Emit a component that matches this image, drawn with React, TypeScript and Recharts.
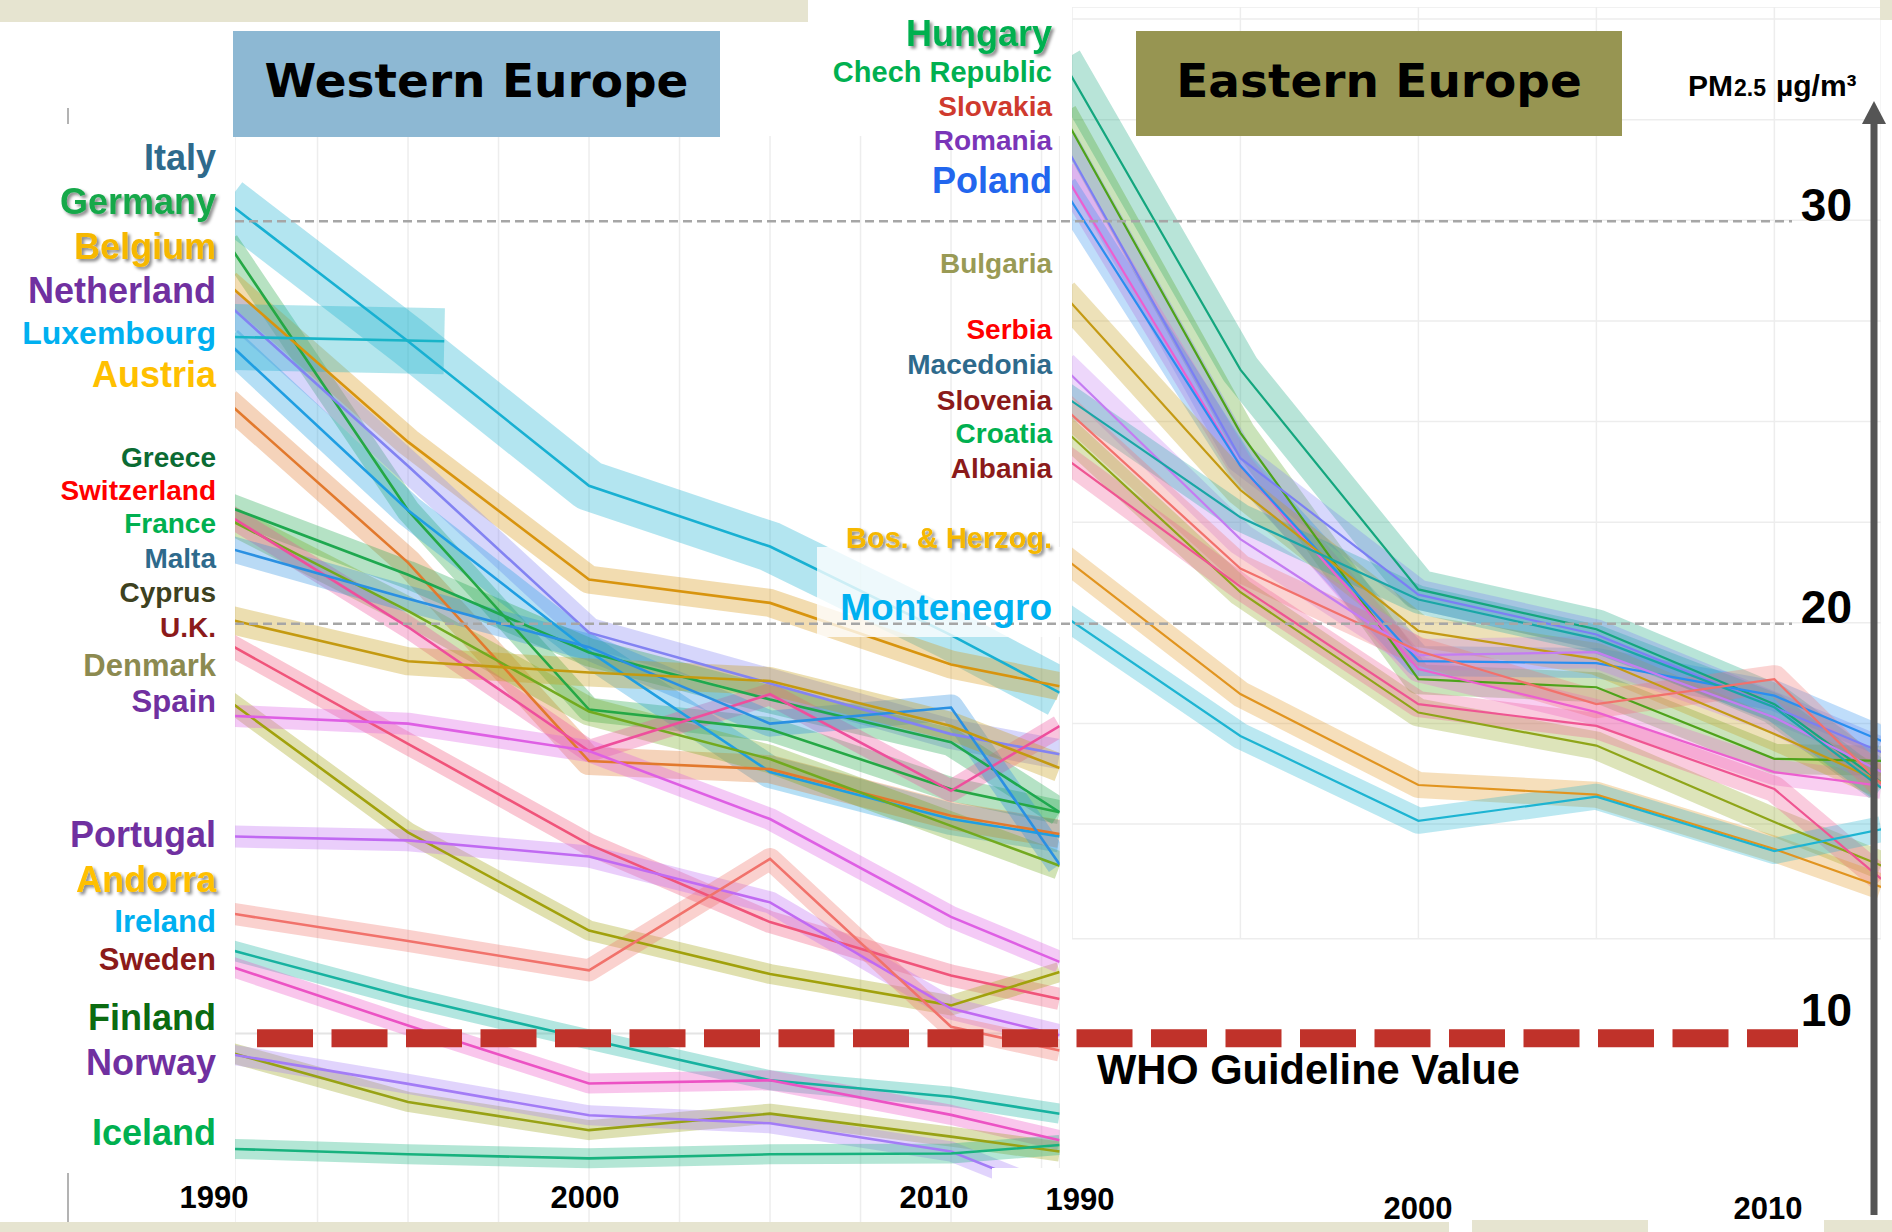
import React from "react";
import { LineChart, Line, XAxis, YAxis, CartesianGrid, ReferenceLine } from "recharts";

// ---------------- DATA (PM2.5, µg/m³) ----------------
const westYears = [1990, 1995, 2000, 2005, 2010, 2013];
const westYearsLux = [1990, 1996];
const westYearsTo2012 = [1990, 1995, 2000, 2005, 2010, 2012];
const eastYears = [1990, 1995, 2000, 2005, 2010, 2013];

const wItaly = [30.46, 27.0, 23.41, 21.9, 19.7, 18.27];
const wGermany = [29.47, 22.8, 17.85, 17.36, 15.87, 15.3];
const wBelgium = [28.44, 24.5, 21.08, 20.5, 18.97, 18.43];
const wNetherland = [27.94, 23.9, 19.76, 18.5, 17.24, 16.74];
const wLuxembourg = [27.11, 27.0];
const wAustria = [26.99, 22.8, 19.3, 16.3, 15.13, 14.7];
const wGreece = [25.5, 21.5, 16.57, 16.37, 15.21, 14.76];
const wSwitzerland = [22.9, 21.2, 19.27, 18.1, 17.04, 15.3];
const wFrance = [22.6, 20.3, 17.8, 16.62, 14.96, 13.97];
const wUnlabelled = [22.7, 19.9, 16.82, 18.23, 15.83, 17.44];
const wMalta = [21.87, 20.6, 19.4, 17.5, 17.9, 14.0];
const wCyprus = [20.1, 19.05, 18.77, 18.56, 17.44, 16.4];
const wUK = [19.5, 17.0, 14.5, 12.57, 11.24, 10.66];
const wDenmark = [18.1, 14.8, 12.36, 11.28, 10.5, 11.33];
const wSpain = [17.7, 17.5, 16.82, 15.13, 12.7, 11.58];
const wPortugal = [14.7, 14.6, 14.2, 13.06, 10.42, 9.76];
const wAndorra = [12.8, 12.1, 11.37, 14.14, 9.97, 9.38];
const wIreland = [11.9, 10.7, 9.65, 8.64, 8.23, 7.81];
const wSweden = [11.5, 10.0, 8.56, 8.64, 7.78, 7.15];
const wFinland = [9.35, 8.1, 7.4, 7.81, 7.24, 6.87];
const wNorway = [9.3, 8.55, 7.77, 7.57, 6.87, 6.15];
const wIceland = [6.94, 6.8, 6.7, 6.8, 6.82, 7.03];

const eHungary = [33.97, 26.29, 20.83, 19.84, 17.98, 16.04];
const eChech = [32.66, 24.72, 18.6, 18.4, 16.62, 16.57];
const eSlovakia = [31.99, 24.09, 20.7, 19.71, 17.9, 16.79];
const eRomania = [31.24, 23.9, 18.85, 17.78, 16.29, 15.95];
const ePoland = [30.83, 23.9, 19.05, 19.0, 18.19, 17.07];
const eBulgaria = [28.19, 23.3, 19.8, 19.1, 17.24, 16.04];
const eSerbia = [26.37, 22.08, 19.2, 19.27, 17.65, 16.3];
const eMacedonia = [25.67, 22.62, 20.58, 19.6, 17.9, 15.9];
const eSlovenia = [25.38, 21.35, 19.3, 17.98, 18.6, 16.0];
const eCroatia = [24.84, 20.76, 17.77, 16.95, 15.05, 13.97];
const eAlbania = [24.14, 20.9, 17.98, 17.44, 15.87, 13.64];
const eBosnia = [21.65, 18.23, 15.97, 15.73, 14.38, 13.44];
const eMontenegro = [20.2, 17.19, 15.08, 15.68, 14.33, 14.87];

const yTickValues = [10, 20, 30];
const dashedRefValues = [30, 20];
const WHO_LINE_VALUE = 9.7;
const westGridYears = [1992.5, 1995, 1997.5, 2000, 2002.5, 2005, 2007.5, 2010, 2012.5];
const eastGridYears = [1995, 2000, 2005, 2010];
const eastGridValues = [15, 17.5, 20, 22.5, 25, 27.5, 30, 32.5, 35];
const eastAxisYears = [2000, 2010];

type Series = { id: string; years: number[]; values: number[] };
type Style = { color: string; band: number };

const westSeries: Series[] = [
  { id: "Italy", years: westYears, values: wItaly },
  { id: "Germany", years: westYears, values: wGermany },
  { id: "Belgium", years: westYears, values: wBelgium },
  { id: "Netherland", years: westYears, values: wNetherland },
  { id: "Luxembourg", years: westYearsLux, values: wLuxembourg },
  { id: "Austria", years: westYears, values: wAustria },
  { id: "Greece", years: westYears, values: wGreece },
  { id: "Switzerland", years: westYears, values: wSwitzerland },
  { id: "France", years: westYears, values: wFrance },
  { id: "Unlabelled", years: westYears, values: wUnlabelled },
  { id: "Malta", years: westYears, values: wMalta },
  { id: "Cyprus", years: westYears, values: wCyprus },
  { id: "UK", years: westYears, values: wUK },
  { id: "Denmark", years: westYears, values: wDenmark },
  { id: "Spain", years: westYears, values: wSpain },
  { id: "Portugal", years: westYears, values: wPortugal },
  { id: "Andorra", years: westYears, values: wAndorra },
  { id: "Ireland", years: westYears, values: wIreland },
  { id: "Sweden", years: westYears, values: wSweden },
  { id: "Finland", years: westYears, values: wFinland },
  { id: "Norway", years: westYearsTo2012, values: wNorway },
  { id: "Iceland", years: westYears, values: wIceland },
];

const eastSeries: Series[] = [
  { id: "Hungary", years: eastYears, values: eHungary },
  { id: "Chech", years: eastYears, values: eChech },
  { id: "Slovakia", years: eastYears, values: eSlovakia },
  { id: "Romania", years: eastYears, values: eRomania },
  { id: "Poland", years: eastYears, values: ePoland },
  { id: "Bulgaria", years: eastYears, values: eBulgaria },
  { id: "Serbia", years: eastYears, values: eSerbia },
  { id: "Macedonia", years: eastYears, values: eMacedonia },
  { id: "Slovenia", years: eastYears, values: eSlovenia },
  { id: "Croatia", years: eastYears, values: eCroatia },
  { id: "Albania", years: eastYears, values: eAlbania },
  { id: "Bosnia", years: eastYears, values: eBosnia },
  { id: "Montenegro", years: eastYears, values: eMontenegro },
];

// ---------------- STYLES ----------------
const westStyles: Record<string, Style> = {
  Italy: { color: "#18b0d2", band: 50 },
  Germany: { color: "#25a845", band: 24 },
  Belgium: { color: "#d8940e", band: 28 },
  Netherland: { color: "#8383f2", band: 30 },
  Luxembourg: { color: "#19b4c8", band: 66 },
  Austria: { color: "#1f9ee2", band: 32 },
  Greece: { color: "#e2792d", band: 28 },
  Switzerland: { color: "#1ea84f", band: 28 },
  France: { color: "#72aa1f", band: 28 },
  Unlabelled: { color: "#ee4f9c", band: 22 },
  Malta: { color: "#2a90e2", band: 26 },
  Cyprus: { color: "#c49a10", band: 28 },
  UK: { color: "#f0547a", band: 22 },
  Denmark: { color: "#a1a10c", band: 20 },
  Spain: { color: "#de5fe4", band: 22 },
  Portugal: { color: "#c06af2", band: 22 },
  Andorra: { color: "#f1726b", band: 22 },
  Ireland: { color: "#17b2a0", band: 20 },
  Sweden: { color: "#ec52c4", band: 20 },
  Finland: { color: "#98a215", band: 20 },
  Norway: { color: "#a37cf6", band: 20 },
  Iceland: { color: "#18b27e", band: 20 },
};

const eastStyles: Record<string, Style> = {
  Hungary: { color: "#14a67e", band: 40 },
  Chech: { color: "#4ea31a", band: 30 },
  Slovakia: { color: "#7b7ff4", band: 30 },
  Romania: { color: "#ec5fd0", band: 26 },
  Poland: { color: "#2a8ef0", band: 30 },
  Bulgaria: { color: "#c49a14", band: 32 },
  Serbia: { color: "#c47cf2", band: 32 },
  Macedonia: { color: "#1aa6a6", band: 28 },
  Slovenia: { color: "#f2716c", band: 28 },
  Croatia: { color: "#8fa519", band: 28 },
  Albania: { color: "#ef5592", band: 26 },
  Bosnia: { color: "#e1941f", band: 26 },
  Montenegro: { color: "#1db4d2", band: 26 },
};

// ---------------- LAYOUT ----------------
const FONT = "'Liberation Sans', Arial, Helvetica, sans-serif";
const HEAD_FONT = "'DejaVu Sans', Verdana, sans-serif";
const Y20 = 623.3;
const PX_PER_UNIT = 40.25;
const yOf = (v: number) => Y20 - (v - 20) * PX_PER_UNIT;
const vOf = (y: number) => 20 + (Y20 - y) / PX_PER_UNIT;
const ZERO = { top: 0, right: 0, bottom: 0, left: 0 };

const toPoints = (s: Series) => s.years.map((year, i) => ({ year, v: s.values[i] }));
const flatPoints = (v: number) => [{ x: 0, v }, { x: 1, v }];

type PanelProps = {
  left: number;
  pxPerYear: number;
  xDomain: [number, number];
  yDomain: [number, number];
  series: Series[];
  styles: Record<string, Style>;
  gridX: number[];
  gridY?: number[];
  lineWidth: number;
  bandOpacity: number;
  axisYears?: number[];
  refY?: number;
};

function Panel(p: PanelProps) {
  const width = (p.xDomain[1] - p.xDomain[0]) * p.pxPerYear;
  const top = yOf(p.yDomain[1]);
  const plotH = yOf(p.yDomain[0]) - top;
  const mb = p.axisYears ? 9 : 0;
  return (
    <div style={{ position: "absolute", left: p.left, top, width, height: plotH + mb }}>
      <LineChart width={width} height={plotH + mb} margin={{ top: 0, right: 0, left: 0, bottom: mb }}>
        <CartesianGrid stroke="#ededed" strokeWidth={1.5} horizontal={!!p.gridY} vertical={true} />
        <XAxis xAxisId={0} type="number" dataKey="year" domain={p.xDomain} allowDataOverflow hide ticks={p.gridX} />
        {p.axisYears && (
          <XAxis
            xAxisId="axis"
            type="number"
            dataKey="year"
            domain={p.xDomain}
            allowDataOverflow
            height={0}
            ticks={p.axisYears}
            tick={false}
            tickSize={7}
            tickLine={{ stroke: "#9a9a9a", strokeWidth: 2 }}
            axisLine={{ stroke: "#b3b3b3", strokeWidth: 2.5 }}
          />
        )}
        <YAxis type="number" domain={p.yDomain} allowDataOverflow hide ticks={p.gridY} />
        {p.refY !== undefined && <ReferenceLine y={p.refY} stroke="#e4e4e4" strokeWidth={2} />}
        {p.series.map((s) => (
          <Line
            key={"band-" + s.id}
            data={toPoints(s)}
            dataKey="v"
            type="linear"
            stroke={p.styles[s.id].color}
            strokeOpacity={p.bandOpacity}
            strokeWidth={p.styles[s.id].band}
            strokeLinejoin="round"
            dot={false}
            activeDot={false}
            legendType="none"
            isAnimationActive={false}
          />
        ))}
        {p.series.map((s) => (
          <Line
            key={"line-" + s.id}
            data={toPoints(s)}
            dataKey="v"
            type="linear"
            stroke={p.styles[s.id].color}
            strokeWidth={p.lineWidth}
            dot={false}
            activeDot={false}
            legendType="none"
            isAnimationActive={false}
          />
        ))}
      </LineChart>
    </div>
  );
}

function GuideLines() {
  const top = yOf(35);
  const h = yOf(5) - top;
  return (
    <>
      <div style={{ position: "absolute", left: 235, top, width: 1557, height: h }}>
        <LineChart width={1557} height={h} margin={ZERO}>
          <XAxis type="number" dataKey="x" domain={[0, 1]} hide />
          <YAxis type="number" domain={[5, 35]} hide />
          {dashedRefValues.map((v) => (
            <Line
              key={"ref" + v}
              data={flatPoints(v)}
              dataKey="v"
              type="linear"
              stroke="#a6a6a6"
              strokeWidth={2.5}
              strokeDasharray="9 5"
              dot={false}
              activeDot={false}
              legendType="none"
              isAnimationActive={false}
            />
          ))}
        </LineChart>
      </div>
      <div style={{ position: "absolute", left: 257, top, width: 1541, height: h }}>
        <LineChart width={1541} height={h} margin={ZERO}>
          <XAxis type="number" dataKey="x" domain={[0, 1]} hide />
          <YAxis type="number" domain={[5, 35]} hide />
          <Line
            data={flatPoints(WHO_LINE_VALUE)}
            dataKey="v"
            type="linear"
            stroke="#c0322a"
            strokeWidth={18}
            strokeDasharray="56 18.5"
            dot={false}
            activeDot={false}
            legendType="none"
            isAnimationActive={false}
          />
        </LineChart>
      </div>
    </>
  );
}

const AxisTick = (props: any) => (
  <text x={props.x} y={props.y} textAnchor="end" fontFamily={FONT} fontWeight={700} fontSize={46} fill="#000">
    {props.payload.value}
  </text>
);

function RightAxis() {
  const top = 122;
  const bottom = 1215;
  const h = bottom - top;
  return (
    <div style={{ position: "absolute", left: 1774, top, width: 112, height: h }}>
      <LineChart width={112} height={h} margin={ZERO} data={[{ x: 0 }, { x: 1 }]}>
        <XAxis type="number" dataKey="x" domain={[0, 1]} hide />
        <YAxis
          type="number"
          orientation="left"
          width={100}
          domain={[vOf(bottom), vOf(top)]}
          allowDataOverflow
          ticks={yTickValues}
          interval={0}
          tickSize={0}
          tickMargin={22}
          tickLine={false}
          axisLine={{ stroke: "#555555", strokeWidth: 7 }}
          tick={AxisTick}
        />
      </LineChart>
    </div>
  );
}

type Label = [string, string, number, number, boolean];
const westLabels: Label[] = [
  ["Italy", "#2e6a8c", 170, 36, false],
  ["Germany", "#13a84a", 214, 36, true],
  ["Belgium", "#f6b800", 259, 36, true],
  ["Netherland", "#7030a0", 303, 36, false],
  ["Luxembourg", "#00b0f0", 344, 32, false],
  ["Austria", "#ffc000", 387, 36, false],
  ["Greece", "#0b6b33", 467, 28, false],
  ["Switzerland", "#ff0000", 500, 28, false],
  ["France", "#00b050", 533, 28, false],
  ["Malta", "#2e6a8c", 568, 28, false],
  ["Cyprus", "#3d4120", 602, 28, false],
  ["U.K.", "#8b1a1a", 637, 28, false],
  ["Denmark", "#8c8a50", 676, 31, false],
  ["Spain", "#7030a0", 712, 31, false],
  ["Portugal", "#7030a0", 847, 36, false],
  ["Andorra", "#ffc000", 892, 36, true],
  ["Ireland", "#00b0f0", 932, 31, false],
  ["Sweden", "#8b1a1a", 970, 31, false],
  ["Finland", "#0b6b11", 1030, 36, false],
  ["Norway", "#7030a0", 1075, 36, false],
  ["Iceland", "#00b050", 1145, 36, false],
];
const eastLabels: Label[] = [
  ["Hungary", "#00b050", 46, 36, true],
  ["Chech Republic", "#00b050", 82, 29, false],
  ["Slovakia", "#cf3a2e", 116, 28, false],
  ["Romania", "#7a35b8", 150, 28, false],
  ["Poland", "#2266ee", 193, 36, false],
  ["Bulgaria", "#999a55", 273, 28, false],
  ["Serbia", "#ff0000", 339, 28, false],
  ["Macedonia", "#2e6a8c", 374, 28, false],
  ["Slovenia", "#8b1a1a", 410, 28, false],
  ["Croatia", "#00b050", 443, 28, false],
  ["Albania", "#8b1a1a", 478, 28, false],
  ["Bos. & Herzog.", "#f6b800", 548, 29, true],
  ["Montenegro", "#00b0f0", 620, 37, false],
];
const xLabels: [string, number, number][] = [
  ["1990", 214, 1208],
  ["2000", 585, 1208],
  ["2010", 934, 1208],
  ["1990", 1080, 1210],
  ["2000", 1418, 1219],
  ["2010", 1768, 1219],
];

function Annotations() {
  const renderLabel = (l: Label, x: number, i: number) => (
    <text
      key={l[0] + i}
      x={x}
      y={l[2]}
      textAnchor="end"
      fontFamily={FONT}
      fontWeight={700}
      fontSize={l[3]}
      fill={l[1]}
      filter={l[4] ? "url(#shadow)" : undefined}
    >
      {l[0]}
    </text>
  );
  return (
    <svg width={1892} height={1232} style={{ position: "absolute", left: 0, top: 0 }}>
      <defs>
        <filter id="shadow" x="-10%" y="-20%" width="130%" height="160%">
          <feDropShadow dx="2.5" dy="2.5" stdDeviation="1.4" floodColor="#000" floodOpacity="0.45" />
        </filter>
      </defs>
      <rect x={233} y={31} width={487} height={106} fill="#8db8d3" />
      <text x={476.5} y={97} textAnchor="middle" fontFamily={HEAD_FONT} fontWeight={700} fontSize={47} fill="#000">
        Western Europe
      </text>
      <rect x={1136} y={31} width={486} height={105} fill="#979552" />
      <text x={1379} y={97} textAnchor="middle" fontFamily={HEAD_FONT} fontWeight={700} fontSize={47} fill="#000">
        Eastern Europe
      </text>
      <text y={96} fontFamily={FONT} fontWeight={700} fill="#000">
        <tspan x={1688} fontSize={30}>PM</tspan>
        <tspan x={1734} fontSize={23}>2.5</tspan>
        <tspan x={1776} fontSize={30}>µg/m³</tspan>
      </text>
      {/* axis stem + arrow head */}
      <line x1={1874} y1={118} x2={1874} y2={1215} stroke="#555555" strokeWidth={6} />
      <polygon points="1874,101 1862,124 1886,124" fill="#555555" />
      {westLabels.map((l, i) => renderLabel(l, 216, i))}
      {eastLabels.map((l, i) => renderLabel(l, 1052, i))}
      {xLabels.map((t, i) => (
        <text key={"x" + i} x={t[1]} y={t[2]} textAnchor="middle" fontFamily={FONT} fontWeight={700} fontSize={31} fill="#000">
          {t[0]}
        </text>
      ))}
      <text x={1097} y={1084} fontFamily={FONT} fontWeight={700} fontSize={41.6} fill="#000">
        WHO Guideline Value
      </text>
      <line x1={68} y1={108} x2={68} y2={124} stroke="#9a9a9a" strokeWidth={1.5} />
      <line x1={68} y1={1173} x2={68} y2={1222} stroke="#9a9a9a" strokeWidth={1.5} />
    </svg>
  );
}

export default function App() {
  return (
    <div style={{ position: "absolute", left: 0, top: 0, width: 1892, height: 1232, background: "#ffffff", overflow: "hidden" }}>
      <Panel
        left={235}
        pxPerYear={36.2}
        xDomain={[1990.22, 2013]}
        yDomain={[5, 32.1]}
        series={westSeries}
        styles={westStyles}
        gridX={westGridYears}
        lineWidth={2.6}
        bandOpacity={0.33}
        refY={9.8}
      />
      <Panel
        left={1071.7}
        pxPerYear={35.6}
        xDomain={[1990.27, 2013]}
        yDomain={[12.15, 35.3]}
        series={eastSeries}
        styles={eastStyles}
        gridX={eastGridYears}
        gridY={eastGridValues}
        lineWidth={2.2}
        bandOpacity={0.3}
        axisYears={eastAxisYears}
      />
      <div style={{ position: "absolute", left: 817, top: 547, width: 246, height: 90, background: "rgba(255,255,255,0.78)" }} />
      <div style={{ position: "absolute", left: 992, top: 1168, width: 148, height: 54, background: "#ffffff" }} />
      <GuideLines />
      <RightAxis />
      <Annotations />
      <div style={{ position: "absolute", left: 0, top: 0, width: 808, height: 22, background: "#e6e4d0" }} />
      <div style={{ position: "absolute", left: 1880, top: 0, width: 12, height: 20, background: "#e6e4d0" }} />
      <div style={{ position: "absolute", left: 0, top: 1222, width: 1449, height: 10, background: "#e6e4d0" }} />
      <div style={{ position: "absolute", left: 1472, top: 1220, width: 176, height: 12, background: "#e6e4d0" }} />
      <div style={{ position: "absolute", left: 1824, top: 1220, width: 68, height: 12, background: "#e6e4d0" }} />
    </div>
  );
}
